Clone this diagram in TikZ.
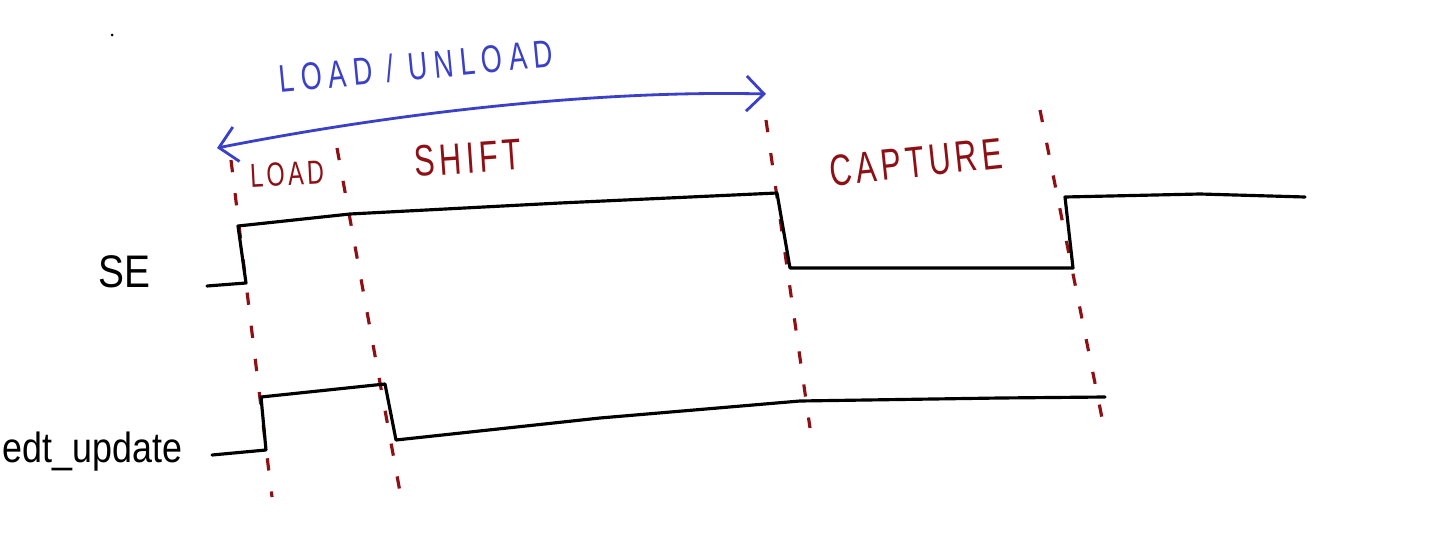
\documentclass[tikz,border=0pt]{standalone}
\usepackage{fontspec}
\setmainfont{Liberation Sans}
\newfontfamily\hand[FakeStretch=0.85]{Liberation Sans}
\newfontfamily\handcaps[FakeStretch=0.7,LetterSpace=10]{Liberation Sans}
\newfontfamily\handwide[FakeStretch=0.7,LetterSpace=17]{Liberation Sans}
\usetikzlibrary{arrows.meta}
\definecolor{inkblue}{HTML}{3A40C8}
\definecolor{inkred}{HTML}{8E0F14}
\tikzset{
  wave/.style={draw=black,line width=0.9pt,line join=round,line cap=round},
  cut/.style={draw=inkred,line width=0.9pt,dash pattern=on 3.5pt off 6pt},
  span/.style={draw=inkblue,line width=0.8pt,
               >={Straight Barb[length=5pt,width=10pt]},<->},
  phase/.style={font=\handcaps\fontsize{12.5}{14}\selectfont,text=inkred,
                inner sep=0pt},
  spanlbl/.style={font=\handwide\fontsize{11}{13}\selectfont,text=inkblue,
                  inner sep=0pt},
  sig/.style={font=\hand\fontsize{13}{15}\selectfont,inner sep=0pt},
}
\begin{document}
\begin{tikzpicture}[x=0.1mm,y=-0.1mm]
  \fill[white] (0,0) rectangle (1456,548);
  \fill (112,35) circle (1.5);

  % phase boundaries
  \foreach \xa/\ya/\xb/\yb in {231/160/272/497, 337/148/400/492,
                               766/120/810/428, 1040/110/1102/418}
    \draw[cut] (\xa,\ya) -- (\xb,\yb);

  % signals
  \node[sig] (se) at (124,272) {SE};
  \node[sig,font=\hand\fontsize{12}{14}\selectfont,anchor=base west]
    (eu) at (2,462) {edt\_update};

  \draw[wave] (207,286) -- (246,283) -- (238,226) -- (350,214) -- (560,203)
    -- (777,193) -- (790,268) -- (1073,268) -- (1065,197) -- (1200,194)
    -- (1305,197);
  \draw[wave] (212,455) -- (266,450) -- (261,397) -- (385,384) -- (396,440)
    -- (600,418) -- (800,401) -- (1000,398) -- (1105,397);

  % phases
  \node[spanlbl,rotate=5.5] (lu) at (416,66) {LOAD / UNLOAD};
  \draw[span] (217,148) .. controls (400,112) and (600,90) .. (766,94);
  \node[phase,font=\handcaps\fontsize{9.5}{11}\selectfont,rotate=3]
    (ld) at (287,174) {LOAD};
  \node[phase,rotate=4] (sh) at (468,158) {SHIFT};
  \node[phase,rotate=6] (cp) at (916,162) {CAPTURE};
\end{tikzpicture}
\end{document}
